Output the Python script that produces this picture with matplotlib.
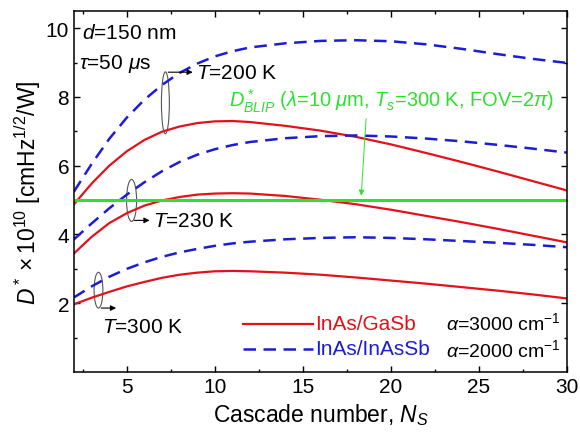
import numpy as np
import matplotlib
matplotlib.use('Agg')
import matplotlib.pyplot as plt
from matplotlib.patches import Ellipse

plt.rcParams['font.family'] = ['Liberation Sans', 'DejaVu Sans']
plt.rcParams['mathtext.fontset'] = 'custom'
plt.rcParams['mathtext.rm'] = 'Liberation Sans'
plt.rcParams['mathtext.it'] = 'Liberation Sans:italic'
plt.rcParams['mathtext.cal'] = 'Liberation Serif:italic'

# cascade number
ns = [2, 3, 4, 5, 6, 7, 8, 9, 10, 11, 12, 14, 16, 18, 20, 22, 24, 26, 28, 30]

# InAs/GaSb (solid red)
gasb_200 = [4.88, 5.48, 6.00, 6.42, 6.75, 6.99, 7.14, 7.24, 7.29, 7.30, 7.27, 7.16,
            7.02, 6.84, 6.62, 6.37, 6.11, 5.84, 5.56, 5.28]
gasb_230 = [3.45, 3.93, 4.33, 4.62, 4.84, 4.99, 5.09, 5.16, 5.19, 5.20, 5.19, 5.12,
            5.01, 4.88, 4.72, 4.54, 4.36, 4.17, 3.97, 3.77]
gasb_300 = [1.97, 2.16, 2.33, 2.49, 2.62, 2.74, 2.83, 2.89, 2.93, 2.94, 2.93, 2.89,
            2.83, 2.75, 2.66, 2.57, 2.47, 2.37, 2.26, 2.14]

# InAs/InAsSb (dashed blue)
inassb_200 = [5.25, 6.05, 6.78, 7.40, 7.92, 8.35, 8.70, 8.97, 9.18, 9.33, 9.44, 9.56,
              9.63, 9.65, 9.62, 9.53, 9.40, 9.25, 9.11, 8.99]
inassb_230 = [3.86, 4.32, 4.76, 5.16, 5.52, 5.84, 6.11, 6.32, 6.48, 6.60, 6.69, 6.80,
              6.86, 6.88, 6.85, 6.79, 6.71, 6.61, 6.50, 6.38]
inassb_300 = [2.17, 2.49, 2.77, 3.00, 3.19, 3.35, 3.48, 3.58, 3.67, 3.74, 3.79, 3.86,
              3.90, 3.92, 3.90, 3.86, 3.81, 3.76, 3.70, 3.63]

d_blip = 5.0

RED = '#e3121a'
BLUE = '#1c1cd6'
GREEN = '#2ee02e'

fig = plt.figure(figsize=(5.8, 4.39), dpi=100)
ax = fig.add_axes([0.1276, 0.1503, 0.85, 0.8224])

for ys in (gasb_200, gasb_230, gasb_300):
    ax.plot(ns, ys, color=RED, lw=1.6)
for ys in (inassb_200, inassb_230, inassb_300):
    ax.plot(ns, ys, color=BLUE, lw=1.8, dashes=(5, 3))
ax.axhline(d_blip, color=GREEN, lw=2.2)

ax.set_xlim(2, 30)
ax.set_ylim(0, 10.5)
ax.set_xticks([5, 10, 15, 20, 25, 30])
ax.set_xticks(np.arange(2.5, 30, 5), minor=True)
ax.set_yticks([2, 4, 6, 8, 10])
ax.set_yticks([1, 3, 5, 7, 9], minor=True)
ax.tick_params(which='both', direction='in', top=True, right=True, labelsize=15)
ax.tick_params(which='major', length=4.5, width=1)
ax.tick_params(which='minor', length=2.5, width=1)
for s in ax.spines.values():
    s.set_linewidth(1.1)

ax.set_xlabel('Cascade number, $N_S$', fontsize=16.5, labelpad=4)
ax.set_ylabel(r'$D^* \times 10^{10}$ [cmHz$^{1/2}$/W]', fontsize=16.5, labelpad=2)

# temperature markers
ell_kw = dict(fill=False, edgecolor='#555555', lw=0.8)
ax.add_patch(Ellipse((7.19, 7.83), 0.45, 1.8, **ell_kw))
ax.add_patch(Ellipse((5.27, 4.99), 0.57, 1.22, **ell_kw))
ax.add_patch(Ellipse((3.39, 2.38), 0.5, 1.04, **ell_kw))
arr_kw = dict(arrowstyle='-|>', color='black', lw=0.8, mutation_scale=8)
ax.annotate('', xy=(8.9, 8.72), xytext=(7.19, 8.72), arrowprops=arr_kw)
ax.annotate('', xy=(6.45, 4.41), xytext=(5.27, 4.41), arrowprops=arr_kw)
ax.annotate('', xy=(4.55, 1.86), xytext=(3.39, 1.86), arrowprops=arr_kw)

fs = 15
ax.text(8.95, 8.72, r'$T$=200 K', fontsize=fs, va='center')
ax.text(6.5, 4.41, r'$T$=230 K', fontsize=fs, va='center')
ax.text(3.6, 1.33, r'$T$=300 K', fontsize=fs, va='center')
ax.text(2.45, 9.88, r'$d$=150 nm', fontsize=fs, va='center')
ax.text(2.3, 9.0, r'$\tau$=50 $\mu$s', fontsize=fs, va='center')

ax.text(10.8, 7.91,
        r'$D^*_{BLIP}$ ($\lambda$=10 $\mu$m, $T_s$=300 K, FOV=2$\pi$)',
        fontsize=14.4, color=GREEN, va='center')
ax.annotate('', xy=(18.3, d_blip + 0.05), xytext=(18.6, 7.45),
            arrowprops=dict(arrowstyle='-|>', color=GREEN, lw=0.7, mutation_scale=8))

# legend
ax.plot([11.6, 15.6], [1.4, 1.4], color=RED, lw=1.6)
ax.plot([11.6, 15.6], [0.67, 0.67], color=BLUE, lw=1.8, dashes=(5, 3))
ax.text(15.7, 1.4, 'InAs/GaSb', color=RED, fontsize=fs, va='center')
ax.text(15.7, 0.67, 'InAs/InAsSb', color=BLUE, fontsize=fs, va='center')
ax.text(23.1, 1.45, r'$\alpha$=3000 cm$^{-1}$', fontsize=14, va='center')
ax.text(23.1, 0.67, r'$\alpha$=2000 cm$^{-1}$', fontsize=14, va='center')

fig.savefig('out.png', dpi=100)
